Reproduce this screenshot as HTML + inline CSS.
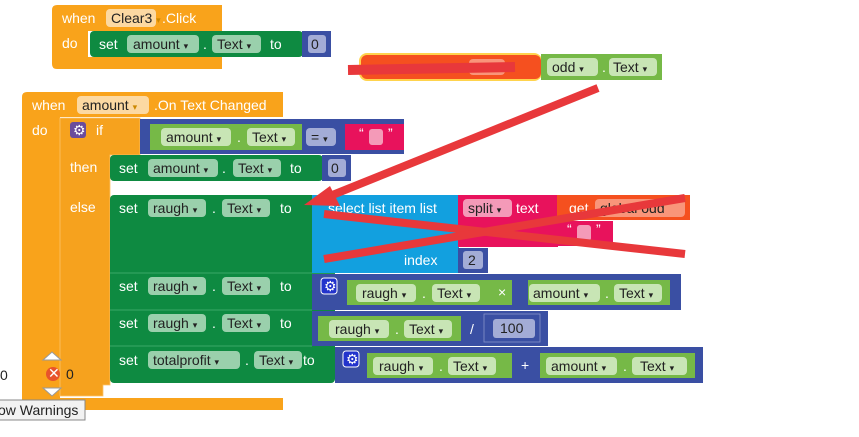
<!DOCTYPE html>
<html><head><meta charset="utf-8"><style>
body{margin:0;background:#fff;width:859px;height:437px;overflow:hidden}
svg{display:block}
text{font-family:"Liberation Sans",sans-serif;font-size:14px}
.w{fill:#fff}.d{fill:#222}
</style></head><body>
<svg width="859" height="437" viewBox="0 0 859 437">
<!-- Block 1 -->
<path d="M57 5H222V31H88V57H222V69H57Q52 69 52 64V10Q52 5 57 5Z" fill="#F9A31B"/>
<text x="62" y="23" class="w">when</text>
<rect x="106" y="9" width="50" height="18" rx="4" fill="#FCD9A2"/><text x="111" y="23" class="d">Clear3 <tspan font-size="9" fill="#c80">▾</tspan></text>
<text x="162" y="23" class="w">.Click</text>
<text x="62" y="48" class="w">do</text>
<rect x="90" y="31" width="213" height="26" rx="4" fill="#0E8A41"/>
<text x="99" y="49" class="w">set</text>
<rect x="127" y="35" width="72" height="18" rx="4" fill="#9AD0AC"/><text x="133" y="49" class="d">amount <tspan font-size="9">▾</tspan></text>
<text x="203" y="49" class="w">.</text>
<rect x="212" y="35" width="49" height="18" rx="4" fill="#9AD0AC"/><text x="217" y="49" class="d">Text <tspan font-size="9">▾</tspan></text>
<text x="270" y="49" class="w">to</text>
<rect x="302" y="31" width="29" height="26" fill="#3A4FA3"/>
<rect x="308" y="35" width="18" height="18" rx="3" fill="#A3ACD6"/><text x="311" y="49" class="d">0</text>

<!-- init global -->
<rect x="359" y="53" width="183" height="28" rx="8" fill="#FFD34D"/>
<rect x="361" y="55" width="180" height="24" rx="6" fill="#F5501F"/>
<rect x="469" y="59" width="36" height="16" rx="4" fill="#F9957A"/>
<rect x="541" y="54" width="121" height="26" fill="#76B947"/>
<rect x="547" y="58" width="51" height="18" rx="4" fill="#C8E5B5"/><text x="552" y="72" class="d">odd <tspan font-size="9">▾</tspan></text>
<text x="602" y="72" class="w">.</text>
<rect x="609" y="58" width="48" height="18" rx="4" fill="#C8E5B5"/><text x="613" y="72" class="d">Text <tspan font-size="9">▾</tspan></text>

<!-- Block 2 event -->
<path d="M27 92H283V117H60V398H283V410H27Q22 410 22 405V97Q22 92 27 92Z" fill="#F9A31B"/>
<text x="32" y="110" class="w">when</text>
<rect x="77" y="96" width="72" height="18" rx="4" fill="#FCD9A2"/><text x="82" y="110" class="d">amount <tspan font-size="9" fill="#c80">▾</tspan></text>
<text x="154" y="110" class="w">.On Text Changed</text>
<text x="32" y="135" class="w">do</text>
<!-- if block -->
<path d="M60 118H140V155H110V195H110V385H103V396H60Z" fill="#F6A21E" stroke="#FCC36A" stroke-width="0.8"/>
<rect x="70" y="122" width="16" height="16" rx="3" fill="#6A4C9C"/><text x="73" y="135" class="w" font-size="12">⚙</text>
<text x="96" y="135" class="w">if</text>
<text x="70" y="172" class="w">then</text>
<text x="70" y="212" class="w">else</text>
<!-- compare -->
<rect x="140" y="119" width="264" height="35" fill="#3A4FA3"/>
<rect x="150" y="124" width="152" height="26" fill="#76B947"/>
<rect x="161" y="128" width="70" height="18" rx="4" fill="#C8E5B5"/><text x="166" y="142" class="d">amount <tspan font-size="9">▾</tspan></text>
<text x="237" y="142" class="w">.</text>
<rect x="247" y="128" width="48" height="18" rx="4" fill="#C8E5B5"/><text x="252" y="142" class="d">Text <tspan font-size="9">▾</tspan></text>
<rect x="306" y="128" width="30" height="18" rx="4" fill="#A3ACD6"/><text x="311" y="142" class="d">= <tspan font-size="9">▾</tspan></text>
<rect x="345" y="124" width="59" height="26" fill="#E8125C"/>
<text x="359" y="138" class="w" font-size="10">“</text><rect x="369" y="129" width="14" height="16" rx="3" fill="#F49AB8"/><text x="388" y="138" class="w" font-size="10">”</text>
<!-- then set -->
<rect x="110" y="155" width="213" height="26" rx="4" fill="#0E8A41"/>
<text x="119" y="173" class="w">set</text>
<rect x="148" y="159" width="70" height="18" rx="4" fill="#9AD0AC"/><text x="153" y="173" class="d">amount <tspan font-size="9">▾</tspan></text>
<text x="222" y="173" class="w">.</text>
<rect x="233" y="159" width="48" height="18" rx="4" fill="#9AD0AC"/><text x="238" y="173" class="d">Text <tspan font-size="9">▾</tspan></text>
<text x="290" y="173" class="w">to</text>
<rect x="322" y="155" width="29" height="26" fill="#3A4FA3"/>
<rect x="328" y="159" width="18" height="18" rx="3" fill="#A3ACD6"/><text x="331" y="173" class="d">0</text>
<!-- else big set column -->
<rect x="110" y="195" width="225" height="188" rx="4" fill="#0E8A41"/>
<line x1="110" y1="273" x2="335" y2="273" stroke="#3aa868" stroke-width="1"/>
<line x1="110" y1="310" x2="312" y2="310" stroke="#3aa868" stroke-width="1"/>
<line x1="110" y1="346" x2="312" y2="346" stroke="#3aa868" stroke-width="1"/>
<text x="119" y="213" class="w">set</text>
<rect x="148" y="199" width="58" height="18" rx="4" fill="#9AD0AC"/><text x="153" y="213" class="d">raugh <tspan font-size="9">▾</tspan></text>
<text x="212" y="213" class="w">.</text>
<rect x="222" y="199" width="48" height="18" rx="4" fill="#9AD0AC"/><text x="227" y="213" class="d">Text <tspan font-size="9">▾</tspan></text>
<text x="280" y="213" class="w">to</text>
<!-- select list item -->
<rect x="312" y="195" width="147" height="78" fill="#12A0DF"/>
<text x="328" y="213" class="w">select list item  list</text>
<text x="404" y="265" class="w">index</text>
<rect x="458" y="195" width="100" height="52" fill="#E8125C"/>
<rect x="463" y="199" width="49" height="18" rx="4" fill="#F49AB8"/><text x="468" y="213" class="d">split <tspan font-size="9">▾</tspan></text>
<text x="516" y="213" class="w">text</text>
<rect x="557" y="195" width="133" height="25" fill="#F5501F"/>
<text x="569" y="213" class="w">get</text>
<rect x="595" y="199" width="90" height="18" rx="4" fill="#F9957A"/><text x="600" y="213" class="d">global odd</text>
<rect x="557" y="221" width="56" height="25" fill="#E8125C"/>
<text x="567" y="234" class="w" font-size="10">“</text><rect x="577" y="225" width="14" height="16" rx="3" fill="#F49AB8"/><text x="596" y="234" class="w" font-size="10">”</text>
<rect x="458" y="248" width="30" height="25" fill="#3A4FA3"/>
<rect x="463" y="251" width="20" height="18" rx="3" fill="#A3ACD6"/><text x="468" y="265" class="d">2</text>
<!-- row multiply -->
<text x="119" y="291" class="w">set</text>
<rect x="148" y="277" width="58" height="18" rx="4" fill="#9AD0AC"/><text x="153" y="291" class="d">raugh <tspan font-size="9">▾</tspan></text>
<text x="212" y="291" class="w">.</text>
<rect x="222" y="277" width="48" height="18" rx="4" fill="#9AD0AC"/><text x="227" y="291" class="d">Text <tspan font-size="9">▾</tspan></text>
<text x="280" y="291" class="w">to</text>
<rect x="312" y="274" width="369" height="36" fill="#3A4FA3"/>
<rect x="321" y="278" width="16" height="16" rx="3" fill="#2233cc" stroke="#fff"/><text x="324" y="291" class="w" font-size="12">⚙</text>
<rect x="347" y="280" width="165" height="25" fill="#76B947"/>
<rect x="356" y="284" width="60" height="18" rx="4" fill="#C8E5B5"/><text x="362" y="298" class="d">raugh <tspan font-size="9">▾</tspan></text>
<text x="422" y="298" class="w">.</text>
<rect x="432" y="284" width="48" height="18" rx="4" fill="#C8E5B5"/><text x="437" y="298" class="d">Text <tspan font-size="9">▾</tspan></text>
<text x="498" y="297" class="w">×</text>
<rect x="528" y="280" width="142" height="25" fill="#76B947"/>
<rect x="529" y="284" width="71" height="18" rx="4" fill="#C8E5B5"/><text x="533" y="298" class="d">amount <tspan font-size="9">▾</tspan></text>
<text x="605" y="298" class="w">.</text>
<rect x="614" y="284" width="48" height="18" rx="4" fill="#C8E5B5"/><text x="619" y="298" class="d">Text <tspan font-size="9">▾</tspan></text>
<!-- row divide -->
<text x="119" y="328" class="w">set</text>
<rect x="148" y="314" width="58" height="18" rx="4" fill="#9AD0AC"/><text x="153" y="328" class="d">raugh <tspan font-size="9">▾</tspan></text>
<text x="212" y="328" class="w">.</text>
<rect x="222" y="314" width="48" height="18" rx="4" fill="#9AD0AC"/><text x="227" y="328" class="d">Text <tspan font-size="9">▾</tspan></text>
<text x="280" y="328" class="w">to</text>
<rect x="312" y="311" width="236" height="35" fill="#3A4FA3"/>
<rect x="318" y="316" width="143" height="25" fill="#76B947"/>
<rect x="329" y="320" width="60" height="18" rx="4" fill="#C8E5B5"/><text x="335" y="334" class="d">raugh <tspan font-size="9">▾</tspan></text>
<text x="395" y="334" class="w">.</text>
<rect x="404" y="320" width="48" height="18" rx="4" fill="#C8E5B5"/><text x="409" y="334" class="d">Text <tspan font-size="9">▾</tspan></text>
<text x="470" y="334" class="w">/</text>
<rect x="484" y="314" width="56" height="28" fill="#3A4FA3" stroke="#8893c8" stroke-width="0.8"/>
<rect x="493" y="319" width="42" height="19" rx="3" fill="#A3ACD6"/><text x="500" y="333" class="d">100</text>
<!-- row add -->
<text x="119" y="365" class="w">set</text>
<rect x="148" y="351" width="92" height="18" rx="4" fill="#9AD0AC"/><text x="153" y="365" class="d">totalprofit <tspan font-size="9">▾</tspan></text>
<text x="245" y="365" class="w">.</text>
<rect x="254" y="351" width="48" height="18" rx="4" fill="#9AD0AC"/><text x="259" y="365" class="d">Text <tspan font-size="9">▾</tspan></text>
<text x="303" y="365" class="w">to</text>
<rect x="335" y="347" width="368" height="36" fill="#3A4FA3"/>
<rect x="343" y="351" width="16" height="16" rx="3" fill="#2233cc" stroke="#fff"/><text x="346" y="364" class="w" font-size="12">⚙</text>
<rect x="367" y="353" width="145" height="25" fill="#76B947"/>
<rect x="373" y="357" width="60" height="18" rx="4" fill="#C8E5B5"/><text x="379" y="371" class="d">raugh <tspan font-size="9">▾</tspan></text>
<text x="439" y="371" class="w">.</text>
<rect x="448" y="357" width="48" height="18" rx="4" fill="#C8E5B5"/><text x="453" y="371" class="d">Text <tspan font-size="9">▾</tspan></text>
<text x="521" y="370" class="w">+</text>
<rect x="540" y="353" width="155" height="25" fill="#76B947"/>
<rect x="546" y="357" width="71" height="18" rx="4" fill="#C8E5B5"/><text x="551" y="371" class="d">amount <tspan font-size="9">▾</tspan></text>
<text x="623" y="371" class="w">.</text>
<rect x="632" y="357" width="55" height="18" rx="4" fill="#C8E5B5"/><text x="640" y="371" class="d">Text <tspan font-size="9">▾</tspan></text>

<!-- warnings -->
<path d="M43 360L52 352L61 360Z" fill="#fff" stroke="#999"/>
<circle cx="53" cy="374" r="7" fill="#E8542B"/><text x="48" y="378" class="w" font-size="11">✕</text>
<text x="66" y="379" class="d" font-size="11">0</text>
<path d="M43 388L52 396L61 388Z" fill="#fff" stroke="#999"/>
<text x="0" y="380" class="d" font-size="11">0</text>
<rect x="-1" y="400" width="86" height="20" fill="#f2f2f2" stroke="#888"/>
<text x="-2" y="415" class="d" font-size="13">ow Warnings</text>

<!-- red marks -->
<g stroke="#E8383B" stroke-linecap="butt" fill="none">
<line x1="348" y1="70" x2="515" y2="67" stroke-width="10"/>
<line x1="598" y1="88" x2="330" y2="196" stroke-width="8"/>
<line x1="324" y1="214" x2="685" y2="254" stroke-width="8"/>
<line x1="324" y1="259" x2="685" y2="198" stroke-width="8"/>
</g>
<path d="M304 205L330 186L340 206Z" fill="#E8383B"/>
</svg>
</body></html>
